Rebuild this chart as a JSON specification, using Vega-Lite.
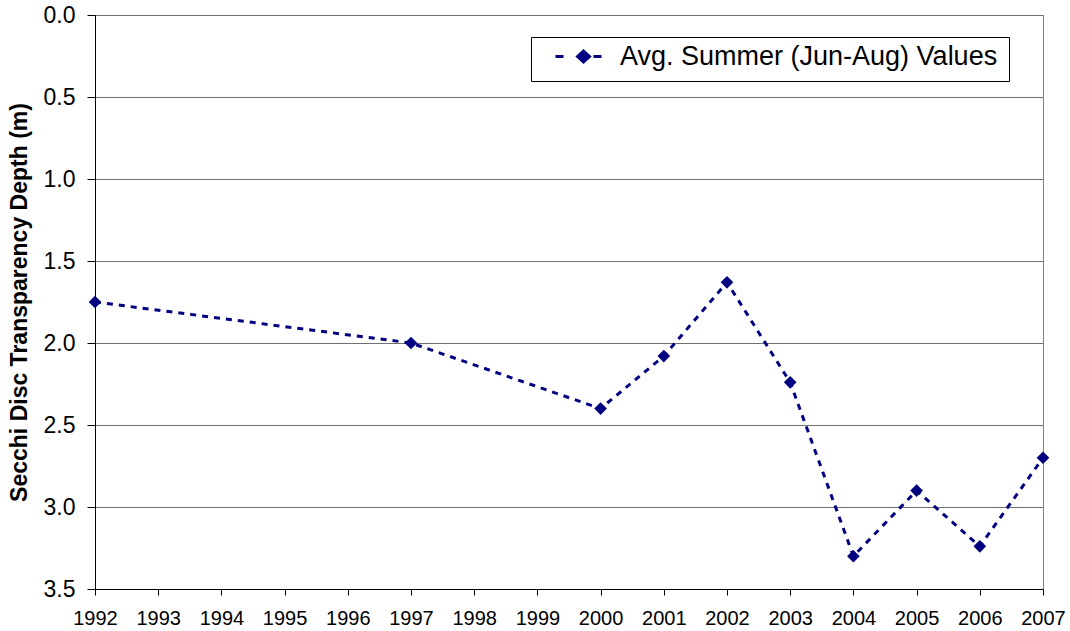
{
  "$schema": "https://vega.github.io/schema/vega-lite/v6.json",
  "autosize": {"type": "none"},
  "width": 948,
  "height": 574,
  "padding": {"left": 95, "top": 15, "right": 27, "bottom": 42},
  "background": "white",
  "config": {
    "font": "Liberation Sans",
    "view": {"stroke": "#808080", "strokeWidth": 1}
  },
  "data": {
    "values": [
      {"year": 1992, "depth": 1.75, "series": "Avg. Summer (Jun-Aug) Values"},
      {"year": 1997, "depth": 2.0, "series": "Avg. Summer (Jun-Aug) Values"},
      {"year": 2000, "depth": 2.4, "series": "Avg. Summer (Jun-Aug) Values"},
      {"year": 2001, "depth": 2.08, "series": "Avg. Summer (Jun-Aug) Values"},
      {"year": 2002, "depth": 1.63, "series": "Avg. Summer (Jun-Aug) Values"},
      {"year": 2003, "depth": 2.24, "series": "Avg. Summer (Jun-Aug) Values"},
      {"year": 2004, "depth": 3.3, "series": "Avg. Summer (Jun-Aug) Values"},
      {"year": 2005, "depth": 2.9, "series": "Avg. Summer (Jun-Aug) Values"},
      {"year": 2006, "depth": 3.24, "series": "Avg. Summer (Jun-Aug) Values"},
      {"year": 2007, "depth": 2.7, "series": "Avg. Summer (Jun-Aug) Values"}
    ]
  },
  "mark": {
    "type": "line",
    "strokeWidth": 3,
    "strokeDash": [6, 6],
    "point": {"shape": "diamond", "size": 160, "filled": true, "opacity": 1}
  },
  "encoding": {
    "x": {
      "field": "year",
      "type": "quantitative",
      "scale": {"domain": [1992, 2007], "nice": false, "zero": false},
      "axis": {
        "title": null,
        "values": [1992,1993,1994,1995,1996,1997,1998,1999,2000,2001,2002,2003,2004,2005,2006,2007],
        "format": "d",
        "grid": false,
        "domainColor": "black",
        "tickColor": "black",
        "tickSize": 6,
        "labelFontSize": 20,
        "labelColor": "black",
        "labelPadding": 13,
        "labelFlush": false
      }
    },
    "y": {
      "field": "depth",
      "type": "quantitative",
      "scale": {"domain": [0, 3.5], "reverse": true, "nice": false},
      "axis": {
        "title": "Secchi Disc Transparency Depth (m)",
        "titleFontSize": 23,
        "titleFontWeight": "bold",
        "titleColor": "black",
        "titlePadding": 12,
        "values": [0, 0.5, 1, 1.5, 2, 2.5, 3, 3.5],
        "format": ".1f",
        "grid": true,
        "gridColor": "#707070",
        "gridWidth": 1,
        "gridOpacity": 1,
        "domainColor": "black",
        "tickColor": "black",
        "tickSize": 8,
        "labelFontSize": 23,
        "labelColor": "black",
        "labelPadding": 12
      }
    },
    "color": {
      "field": "series",
      "type": "nominal",
      "scale": {"range": ["#000080"]},
      "legend": {
        "title": null,
        "orient": "none",
        "legendX": 436,
        "legendY": 22,
        "fillColor": "white",
        "strokeColor": "black",
        "padding": 11,
        "clipHeight": 17,
        "symbolOffset": 12,
        "symbolType": "M-1,0L-0.65,0M0.65,0L1,0M0.22,-0.24L0.48,0L0.22,0.24L-0.04,0Z",
        "symbolSize": 2116,
        "symbolStrokeWidth": 3,
        "symbolFillColor": "#000080",
        "symbolStrokeColor": "#000080",
        "symbolDash": [],
        "labelFontSize": 27,
        "labelLimit": 600,
        "labelColor": "black",
        "labelOffset": 17
      }
    }
  }
}
